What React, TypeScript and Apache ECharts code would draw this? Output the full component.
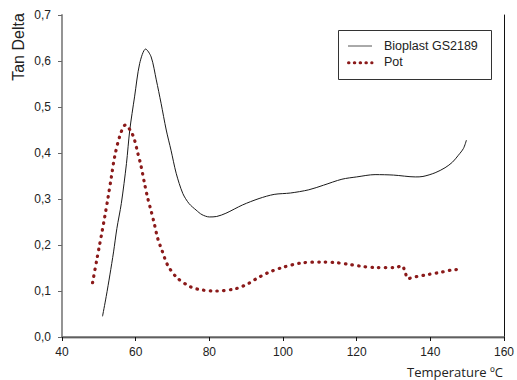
import React, { useEffect, useRef } from 'react';
import * as echarts from 'echarts';

const bioplastTemp = [51, 52, 53, 54, 54.9, 56.1, 57.5, 58.4, 59.7, 61.1, 62.7, 64.2, 65.6, 66.9, 68.3, 69.6, 71, 72.8, 74.5, 76.4, 78, 80, 82, 84.5, 89, 93.5, 97.6, 102, 107, 111, 116, 120, 125, 130, 135.9, 138, 141.3, 144, 146, 147.6, 149, 149.8];
const bioplastTan = [0.045, 0.088, 0.135, 0.185, 0.236, 0.29, 0.377, 0.45, 0.522, 0.595, 0.626, 0.609, 0.559, 0.508, 0.45, 0.406, 0.356, 0.312, 0.29, 0.276, 0.266, 0.261, 0.262, 0.269, 0.287, 0.301, 0.31, 0.313, 0.32, 0.33, 0.343, 0.348, 0.353, 0.352, 0.348, 0.349, 0.357, 0.368, 0.38, 0.395, 0.41, 0.428];

const potTemp = [48.3, 49.4, 50.2, 50.9, 51.6, 52.5, 53.4, 54.3, 55.7, 57.2, 58.8, 59.7, 60.6, 61.4, 62.4, 63.3, 64.2, 65.1, 66, 67.2, 68.7, 71.2, 74.9, 78.2, 81.8, 87.2, 90.8, 92.8, 96, 99.8, 105, 110.6, 114, 117.8, 121, 125, 130.5, 132.3, 133.2, 133.9, 136, 139.5, 143, 146, 148.5];
const potTan = [0.118, 0.166, 0.2, 0.23, 0.261, 0.303, 0.348, 0.392, 0.437, 0.461, 0.446, 0.428, 0.399, 0.374, 0.334, 0.301, 0.274, 0.245, 0.214, 0.187, 0.156, 0.129, 0.109, 0.102, 0.1, 0.105, 0.117, 0.127, 0.14, 0.151, 0.161, 0.163, 0.162, 0.158, 0.154, 0.151, 0.151, 0.155, 0.14, 0.127, 0.131, 0.136, 0.141, 0.146, 0.147];

const seriesNames = ['Bioplast GS2189', 'Pot'];
const xTitle = 'Temperature ºC';
const yTitle = 'Tan Delta';

const BIO_COLOR = '#1a1a1a';
const POT_COLOR = '#8b1a1a';
const ARIAL = '"Liberation Sans", Arial, sans-serif';

export default function App() {
  const ref = useRef<HTMLDivElement>(null);
  useEffect(() => {
    document.body.style.margin = '0';
    const chart = echarts.init(ref.current!, null, { renderer: 'svg' });
    const fmt = (v: number) => v.toFixed(1).replace('.', ',');
    chart.setOption({
      animation: false,
      backgroundColor: '#ffffff',
      grid: { left: 62, right: 9, top: 15, bottom: 43 },
      xAxis: [
        {
          type: 'value', min: 40, max: 160, interval: 20,
          axisLine: { show: true, lineStyle: { color: '#111', width: 1.3 } },
          axisTick: { show: true, inside: false, length: 4, lineStyle: { color: '#111' } },
          axisLabel: { color: '#222', fontSize: 12, fontFamily: ARIAL, margin: 9 },
          splitLine: { show: false },
        },
        {
          type: 'value', min: 40, max: 160, position: 'top',
          axisLine: { show: true, lineStyle: { color: '#7a7a7a', width: 1.6 } },
          axisTick: { show: false }, axisLabel: { show: false }, splitLine: { show: false },
        },
      ],
      yAxis: [
        {
          type: 'value', min: 0, max: 0.7, interval: 0.1,
          axisLine: { show: true, lineStyle: { color: '#888', width: 1.8 } },
          axisTick: { show: true, inside: false, length: 4, lineStyle: { color: '#666' } },
          axisLabel: { color: '#222', fontSize: 12, fontFamily: ARIAL, margin: 11, formatter: fmt },
          splitLine: { show: false },
        },
        {
          type: 'value', min: 0, max: 0.7, position: 'right',
          axisLine: { show: true, lineStyle: { color: '#111', width: 1 } },
          axisTick: { show: false }, axisLabel: { show: false }, splitLine: { show: false },
        },
      ],
      series: [
        {
          name: seriesNames[0], type: 'line', symbol: 'none', smooth: 0.3,
          data: bioplastTemp.map((t, i) => [t, bioplastTan[i]]),
          lineStyle: { color: BIO_COLOR, width: 1 },
        },
        {
          name: seriesNames[1], type: 'line', symbol: 'none', smooth: 0.3,
          data: potTemp.map((t, i) => [t, potTan[i]]),
          lineStyle: { color: POT_COLOR, width: 3.2, type: [0.5, 6.2], cap: 'round' },
        },
      ],
      graphic: [
        {
          type: 'text', x: 18, y: 47, rotation: Math.PI / 2,
          style: { text: yTitle, fontSize: 16, fontFamily: ARIAL, fill: '#222', align: 'center', verticalAlign: 'middle' },
        },
        {
          type: 'text', x: 455, y: 372,
          style: { text: xTitle, fontSize: 13, fontFamily: '"Open Sans", sans-serif', fill: '#222', align: 'center', verticalAlign: 'middle' },
        },
        {
          type: 'rect', shape: { x: 338.5, y: 30.5, width: 153, height: 49 },
          style: { fill: '#fff', stroke: '#333', lineWidth: 1 }, z: 100,
        },
        {
          type: 'line', shape: { x1: 348, y1: 46, x2: 372, y2: 46 },
          style: { stroke: '#555', lineWidth: 1 }, z: 101,
        },
        {
          type: 'line', shape: { x1: 348.5, y1: 62.7, x2: 372, y2: 62.7 },
          style: { stroke: POT_COLOR, lineWidth: 3, lineDash: [0.5, 5.3], lineCap: 'round' }, z: 101,
        },
        {
          type: 'text', x: 384, y: 46, z: 101,
          style: { text: seriesNames[0], fontSize: 12.5, fontFamily: ARIAL, fill: '#222', align: 'left', verticalAlign: 'middle' },
        },
        {
          type: 'text', x: 384, y: 62, z: 101,
          style: { text: seriesNames[1], fontSize: 12.5, fontFamily: ARIAL, fill: '#222', align: 'left', verticalAlign: 'middle' },
        },
      ],
    });
    return () => chart.dispose();
  }, []);
  return <div ref={ref} style={{ width: 517, height: 380 }} />;
}
